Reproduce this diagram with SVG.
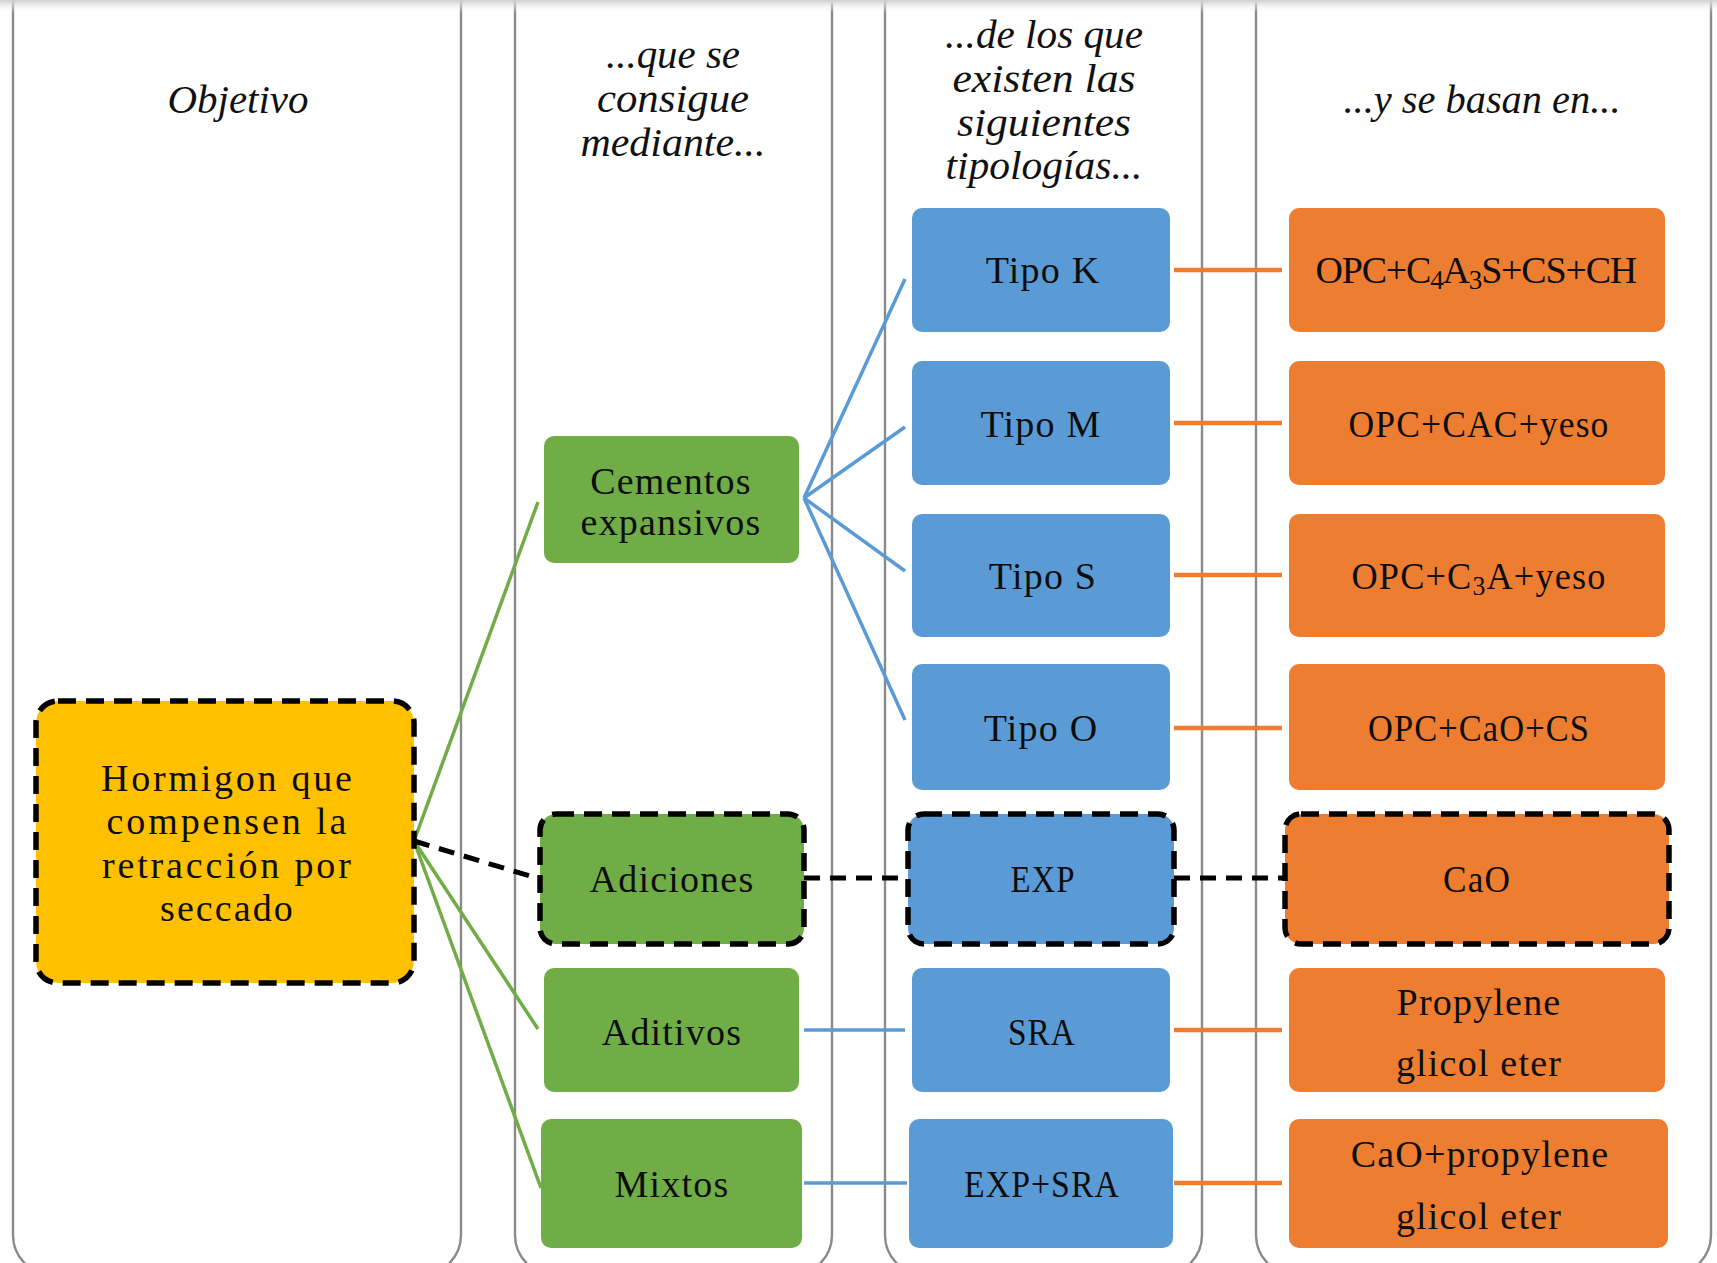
<svg xmlns="http://www.w3.org/2000/svg" width="1717" height="1263" viewBox="0 0 1717 1263">
<style>
.lane{fill:none;stroke:#8a8a8a;stroke-width:2.4}
.hdr{font-family:"Liberation Serif",serif;font-style:italic;font-size:40px;fill:#111;text-anchor:middle}
.t{font-family:"Liberation Serif",serif;font-size:38px;fill:#0d0d0d;text-anchor:middle;letter-spacing:1.2px}
.g{fill:#70ad47}
.b{fill:#5b9bd5}
.o{fill:#ed7d31}
.y{fill:#ffc000}
.dash{stroke:#000;stroke-width:5.5;stroke-dasharray:18 10}
.cg{stroke:#70ad47;stroke-width:3.5;fill:none}
.cb{stroke:#5b9bd5;stroke-width:3.5;fill:none}
.co{stroke:#ed7d31;stroke-width:4.5;fill:none}
.cd{stroke:#000;stroke-width:5;stroke-dasharray:16 10;fill:none}
</style>
<defs>
<linearGradient id="topband" x1="0" y1="0" x2="0" y2="1">
<stop offset="0" stop-color="#cfcfcf"/>
<stop offset="1" stop-color="#ffffff" stop-opacity="0"/>
</linearGradient>
</defs>
<rect width="1717" height="1263" fill="#fff"/>
<g id="lanes">
<rect class="lane" x="13" y="-40" width="448" height="1315" rx="40"/>
<rect class="lane" x="515" y="-40" width="317" height="1315" rx="40"/>
<rect class="lane" x="885" y="-40" width="317" height="1315" rx="40"/>
<rect class="lane" x="1256" y="-40" width="455" height="1315" rx="40"/>
</g>
<rect x="0" y="0" width="1717" height="13" fill="url(#topband)"/>
<g id="headers">
<text class="hdr" x="238" y="113" textLength="141" lengthAdjust="spacingAndGlyphs">Objetivo</text>
<text class="hdr" x="673" y="68" textLength="134" lengthAdjust="spacingAndGlyphs">...que se</text>
<text class="hdr" x="673" y="112" textLength="152" lengthAdjust="spacingAndGlyphs">consigue</text>
<text class="hdr" x="673" y="156" textLength="185" lengthAdjust="spacingAndGlyphs">mediante...</text>
<text class="hdr" x="1044" y="48" textLength="198" lengthAdjust="spacingAndGlyphs">...de los que</text>
<text class="hdr" x="1044" y="92" textLength="183" lengthAdjust="spacingAndGlyphs">existen las</text>
<text class="hdr" x="1044" y="136" textLength="174" lengthAdjust="spacingAndGlyphs">siguientes</text>
<text class="hdr" x="1044" y="179" textLength="197" lengthAdjust="spacingAndGlyphs">tipologías...</text>
<text class="hdr" x="1482" y="113" textLength="277" lengthAdjust="spacingAndGlyphs">...y se basan en...</text>
</g>
<g id="connectors">
<line class="cg" x1="414" y1="841" x2="538" y2="502"/>
<line class="cg" x1="414" y1="841" x2="538" y2="1029"/>
<line class="cg" x1="414" y1="841" x2="541" y2="1188"/>
<line class="cd" x1="414" y1="841" x2="540" y2="879"/>
<line class="cd" x1="804" y1="878" x2="908" y2="878"/>
<line class="cd" x1="1174" y1="878" x2="1285" y2="878"/>
<line class="cb" x1="804" y1="498" x2="905" y2="279"/>
<line class="cb" x1="804" y1="498" x2="905" y2="427"/>
<line class="cb" x1="804" y1="498" x2="905" y2="571"/>
<line class="cb" x1="804" y1="498" x2="905" y2="720"/>
<line class="cb" x1="804" y1="1030" x2="905" y2="1030"/>
<line class="cb" x1="804" y1="1183" x2="907" y2="1183"/>
<line class="co" x1="1174" y1="270" x2="1282" y2="270"/>
<line class="co" x1="1174" y1="423" x2="1282" y2="423"/>
<line class="co" x1="1174" y1="575" x2="1282" y2="575"/>
<line class="co" x1="1174" y1="728" x2="1282" y2="728"/>
<line class="co" x1="1174" y1="1030" x2="1282" y2="1030"/>
<line class="co" x1="1174" y1="1183" x2="1282" y2="1183"/>
</g>
<g id="objetivo">
<rect class="y dash" x="36" y="701" width="378" height="282" rx="22"/>
<text class="t" x="227" y="791" textLength="252" lengthAdjust="spacing">Hormigon que</text>
<text class="t" x="227" y="834" textLength="241" lengthAdjust="spacing">compensen la</text>
<text class="t" x="227" y="878" textLength="250" lengthAdjust="spacing">retracción por</text>
<text class="t" x="227" y="921" textLength="134" lengthAdjust="spacing">seccado</text>
</g>
<g id="cementos">
<rect class="g" x="544" y="436" width="255" height="127" rx="10"/>
<text class="t" x="671" y="494">Cementos</text>
<text class="t" x="671" y="535">expansivos</text>
</g>
<g id="adiciones">
<rect class="g dash" x="540" y="814" width="264" height="130" rx="16"/>
<text class="t" x="672" y="892">Adiciones</text>
</g>
<g id="aditivos">
<rect class="g" x="544" y="968" width="255" height="124" rx="10"/>
<text class="t" x="672" y="1045">Aditivos</text>
</g>
<g id="mixtos">
<rect class="g" x="541" y="1119" width="261" height="129" rx="10"/>
<text class="t" x="672" y="1197">Mixtos</text>
</g>
<g id="tipoK">
<rect class="b" x="912" y="208" width="258" height="124" rx="10"/>
<text class="t" x="1043" y="283">Tipo K</text>
</g>
<g id="tipoM">
<rect class="b" x="912" y="361" width="258" height="124" rx="10"/>
<text class="t" x="1041" y="437">Tipo M</text>
</g>
<g id="tipoS">
<rect class="b" x="912" y="514" width="258" height="123" rx="10"/>
<text class="t" x="1043" y="589">Tipo S</text>
</g>
<g id="tipoO">
<rect class="b" x="912" y="664" width="258" height="126" rx="10"/>
<text class="t" x="1041" y="741">Tipo O</text>
</g>
<g id="exp">
<rect class="b dash" x="908" y="814" width="266" height="130" rx="16"/>
<text class="t" x="1043" y="892" textLength="65" lengthAdjust="spacingAndGlyphs">EXP</text>
</g>
<g id="sra">
<rect class="b" x="912" y="968" width="258" height="124" rx="10"/>
<text class="t" x="1042" y="1045" textLength="68" lengthAdjust="spacingAndGlyphs">SRA</text>
</g>
<g id="expsra">
<rect class="b" x="909" y="1119" width="264" height="129" rx="10"/>
<text class="t" x="1042" y="1197" textLength="156" lengthAdjust="spacingAndGlyphs">EXP+SRA</text>
</g>
<g id="opc1">
<rect class="o" x="1289" y="208" width="376" height="124" rx="10"/>
<text class="t" x="1477" y="283" textLength="323" lengthAdjust="spacing">OPC+C<tspan font-size="27" dy="6">4</tspan><tspan dy="-6">A</tspan><tspan font-size="27" dy="6">3</tspan><tspan dy="-6">S+CS+CH</tspan></text>
</g>
<g id="opc2">
<rect class="o" x="1289" y="361" width="376" height="124" rx="10"/>
<text class="t" x="1479" y="437" textLength="261" lengthAdjust="spacingAndGlyphs">OPC+CAC+yeso</text>
</g>
<g id="opc3">
<rect class="o" x="1289" y="514" width="376" height="123" rx="10"/>
<text class="t" x="1479" y="589" textLength="255" lengthAdjust="spacingAndGlyphs">OPC+C<tspan font-size="27" dy="6">3</tspan><tspan dy="-6">A+yeso</tspan></text>
</g>
<g id="opc4">
<rect class="o" x="1289" y="664" width="376" height="126" rx="10"/>
<text class="t" x="1479" y="741" textLength="222" lengthAdjust="spacingAndGlyphs">OPC+CaO+CS</text>
</g>
<g id="cao">
<rect class="o dash" x="1285" y="814" width="384" height="130" rx="16"/>
<text class="t" x="1477" y="892" textLength="68" lengthAdjust="spacingAndGlyphs">CaO</text>
</g>
<g id="propylene">
<rect class="o" x="1289" y="968" width="376" height="124" rx="10"/>
<text class="t" x="1479" y="1015">Propylene</text>
<text class="t" x="1479" y="1076">glicol eter</text>
</g>
<g id="caoprop">
<rect class="o" x="1289" y="1119" width="379" height="129" rx="10"/>
<text class="t" x="1480" y="1167">CaO+propylene</text>
<text class="t" x="1479" y="1229">glicol eter</text>
</g>
</svg>
